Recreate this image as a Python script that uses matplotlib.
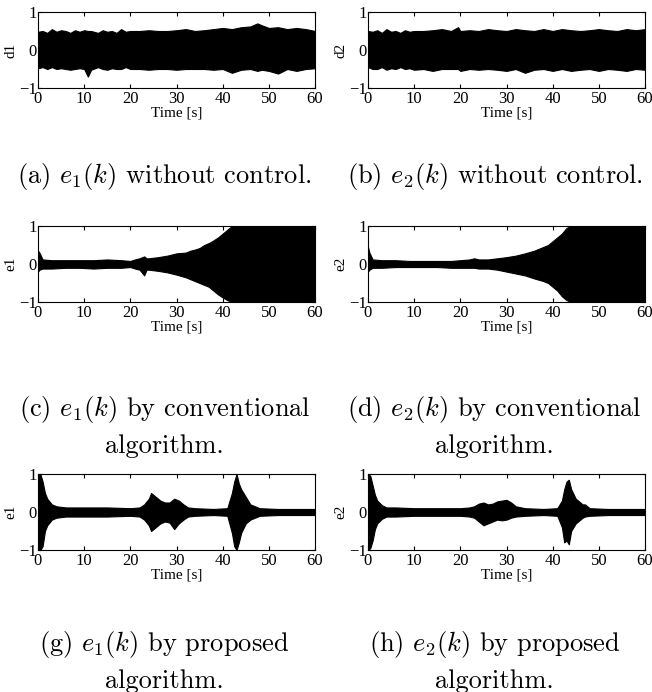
import matplotlib.pyplot as plt
import numpy as np

plt.rcParams['font.family'] = ['Liberation Serif', 'DejaVu Serif']
plt.rcParams['mathtext.fontset'] = 'cm'

# envelope of each signal: time [s], upper, lower
t_a = [0, 1, 2, 3, 4, 5, 6, 7, 8, 9, 10, 10.8, 11.5, 13, 14, 15, 16, 17, 18, 19, 20, 22, 24, 26,
       28, 30, 32, 34, 36, 38, 40, 42, 44, 46, 47.5, 48.5, 50, 52, 54, 56, 58, 60]
up_a = [0.48, 0.5, 0.45, 0.55, 0.48, 0.52, 0.5, 0.45, 0.52, 0.48, 0.52, 0.5, 0.5, 0.45, 0.52,
        0.48, 0.5, 0.45, 0.55, 0.48, 0.5, 0.5, 0.52, 0.5, 0.5, 0.52, 0.55, 0.5, 0.52, 0.55, 0.58,
        0.55, 0.6, 0.62, 0.7, 0.65, 0.58, 0.6, 0.55, 0.58, 0.55, 0.5]
lo_a = [-0.48, -0.45, -0.5, -0.45, -0.5, -0.48, -0.5, -0.52, -0.5, -0.48, -0.5, -0.7, -0.52,
        -0.45, -0.5, -0.52, -0.48, -0.5, -0.5, -0.45, -0.5, -0.5, -0.52, -0.5, -0.5, -0.52, -0.5,
        -0.5, -0.5, -0.52, -0.5, -0.6, -0.52, -0.5, -0.55, -0.52, -0.55, -0.62, -0.5, -0.55,
        -0.5, -0.48]

t_b = [0, 1, 2, 3, 4, 5, 6, 7, 8, 9, 10, 12, 14, 16, 18, 19.5, 20, 22, 24, 26, 28, 30, 32, 34,
       36, 38, 40, 42, 44, 46, 48, 50, 52, 54, 56, 58, 60]
up_b = [0.5, 0.48, 0.52, 0.45, 0.55, 0.48, 0.5, 0.45, 0.52, 0.48, 0.5, 0.5, 0.52, 0.55, 0.5,
        0.6, 0.5, 0.52, 0.5, 0.55, 0.52, 0.5, 0.55, 0.52, 0.5, 0.55, 0.5, 0.55, 0.52, 0.5, 0.52,
        0.55, 0.52, 0.5, 0.55, 0.52, 0.55]
lo_b = [-0.45, -0.5, -0.5, -0.45, -0.52, -0.48, -0.5, -0.45, -0.5, -0.48, -0.52, -0.5, -0.55,
        -0.5, -0.5, -0.5, -0.55, -0.5, -0.52, -0.5, -0.52, -0.55, -0.5, -0.6, -0.52, -0.5,
        -0.55, -0.5, -0.55, -0.52, -0.5, -0.55, -0.5, -0.52, -0.55, -0.5, -0.52]

t_c = [0, 0.3, 1, 3, 6, 9, 12, 15, 18, 20, 21, 22, 23, 23.5, 24, 26, 28, 30, 32, 33, 34, 35,
       36, 37, 38, 39, 40, 41, 42, 43, 60]
up_c = [0.35, 0.3, 0.12, 0.1, 0.1, 0.1, 0.1, 0.12, 0.1, 0.08, 0.12, 0.15, 0.2, 0.15, 0.15, 0.18,
        0.22, 0.28, 0.3, 0.35, 0.38, 0.42, 0.5, 0.55, 0.62, 0.7, 0.8, 0.9, 1.0, 1.0, 1.0]
lo_c = [-0.2, -0.15, -0.12, -0.12, -0.1, -0.1, -0.12, -0.1, -0.1, -0.08, -0.12, -0.15, -0.3,
        -0.15, -0.15, -0.18, -0.22, -0.28, -0.35, -0.4, -0.45, -0.5, -0.55, -0.6, -0.7, -0.8,
        -0.88, -0.95, -1.0, -1.0, -1.0]

t_d = [0, 0.3, 1, 3, 6, 9, 12, 15, 18, 20, 22, 23, 24, 26, 28, 30, 32, 34, 36, 38, 39, 40, 41,
       42, 43, 44, 60]
up_d = [0.45, 0.3, 0.12, 0.1, 0.1, 0.08, 0.08, 0.08, 0.08, 0.1, 0.12, 0.15, 0.12, 0.12, 0.15,
        0.18, 0.22, 0.28, 0.35, 0.45, 0.5, 0.6, 0.7, 0.8, 0.95, 1.0, 1.0]
lo_d = [-0.2, -0.15, -0.1, -0.1, -0.08, -0.08, -0.08, -0.08, -0.1, -0.1, -0.1, -0.1, -0.12,
        -0.12, -0.15, -0.2, -0.25, -0.3, -0.38, -0.45, -0.5, -0.6, -0.7, -0.85, -0.95, -1.0, -1.0]

t_g = [0, 0.5, 1, 1.5, 2, 3, 4, 6, 10, 15, 20, 22, 23, 24, 24.5, 25.5, 26.5, 27.5, 28.5, 29.5,
       30.5, 31.5, 32.5, 34, 38, 41, 42, 42.5, 43, 43.5, 44, 45, 46, 48, 52, 56, 60]
up_g = [1.0, 1.0, 0.8, 0.5, 0.35, 0.2, 0.15, 0.12, 0.12, 0.12, 0.1, 0.12, 0.2, 0.35, 0.5, 0.4,
        0.3, 0.25, 0.25, 0.35, 0.3, 0.2, 0.12, 0.1, 0.08, 0.1, 0.5, 0.8, 1.0, 0.75, 0.6, 0.4, 0.2,
        0.1, 0.08, 0.08, 0.08]
lo_g = [-1.0, -1.0, -0.9, -0.5, -0.35, -0.2, -0.15, -0.12, -0.12, -0.12, -0.1, -0.12, -0.2,
        -0.35, -0.5, -0.4, -0.3, -0.25, -0.28, -0.45, -0.3, -0.2, -0.12, -0.1, -0.08, -0.1, -0.55,
        -0.9, -1.0, -0.8, -0.55, -0.3, -0.2, -0.1, -0.08, -0.08, -0.08]

t_h = [0, 0.5, 1, 1.5, 2, 3, 4, 6, 10, 15, 20, 22, 23, 24, 25, 26, 27, 28, 29, 30, 31, 32, 34,
       38, 41, 42, 42.5, 43, 43.5, 44, 45, 46.5, 47, 48, 52, 56, 60]
up_h = [1.0, 0.95, 0.7, 0.45, 0.3, 0.18, 0.12, 0.12, 0.1, 0.1, 0.1, 0.12, 0.15, 0.22, 0.25, 0.2,
        0.22, 0.28, 0.3, 0.32, 0.25, 0.15, 0.1, 0.08, 0.1, 0.3, 0.6, 0.8, 0.85, 0.6, 0.35, 0.2,
        0.2, 0.1, 0.08, 0.08, 0.08]
lo_h = [-1.0, -0.95, -0.75, -0.45, -0.3, -0.18, -0.12, -0.12, -0.1, -0.1, -0.1, -0.12, -0.15,
        -0.25, -0.35, -0.3, -0.25, -0.2, -0.22, -0.2, -0.15, -0.12, -0.1, -0.08, -0.1, -0.4,
        -0.8, -0.75, -0.85, -0.5, -0.3, -0.15, -0.12, -0.1, -0.08, -0.08, -0.08]

panels = [
    (t_a, up_a, lo_a, 'd1', r'(a) $e_1(k)$ without control.'),
    (t_b, up_b, lo_b, 'd2', r'(b) $e_2(k)$ without control.'),
    (t_c, up_c, lo_c, 'e1', '(c) $e_1(k)$ by conventional\nalgorithm.'),
    (t_d, up_d, lo_d, 'e2', '(d) $e_2(k)$ by conventional\nalgorithm.'),
    (t_g, up_g, lo_g, 'e1', '(g) $e_1(k)$ by proposed\nalgorithm.'),
    (t_h, up_h, lo_h, 'e2', '(h) $e_2(k)$ by proposed\nalgorithm.'),
]

W, H = 652, 692
fig = plt.figure(figsize=(W / 100, H / 100), dpi=100)

col_x = [38, 368]
row_y = [(12, 88), (226, 302), (474, 550)]
caption_y = [177, 426, 661]

for i, (t, up, lo, ylab, cap) in enumerate(panels):
    r, c = divmod(i, 2)
    x0 = col_x[c]
    ytop, ybot = row_y[r]
    ax = fig.add_axes([x0 / W, 1 - ybot / H, 277 / W, (ybot - ytop) / H])
    ax.fill_between(t, lo, up, color='black', lw=0.8, edgecolor='black')
    ax.set_xlim(0, 60)
    ax.set_ylim(-1, 1)
    ax.set_xticks(range(0, 61, 10))
    ax.set_yticks([-1, 0, 1])
    ax.tick_params(direction='in', top=True, right=True, length=3, labelsize=12, pad=1)
    ax.tick_params(axis='x', pad=2)
    ax.set_xlabel('Time [s]', fontsize=11, labelpad=0)
    ax.set_ylabel(ylab, fontsize=11, labelpad=1)
    for s in ax.spines.values():
        s.set_linewidth(0.8)
    fig.text((x0 + 277 / 2 - 12) / W, 1 - caption_y[r] / H, cap, ha='center', va='center',
             fontsize=19, family='cmr10', linespacing=1.5)

fig.savefig('out.png', dpi=100)
